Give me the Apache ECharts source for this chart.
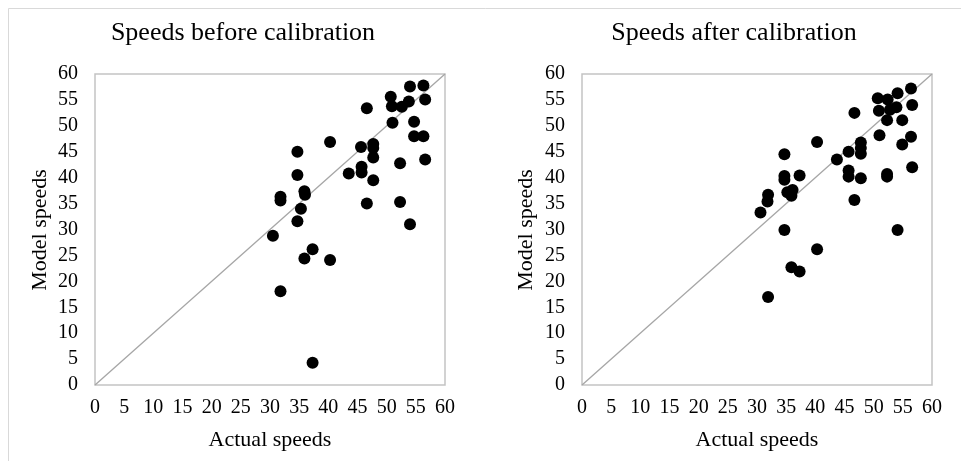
<!DOCTYPE html>
<html>
<head>
<meta charset="utf-8">
<script src="https://cdn.jsdelivr.net/npm/echarts@6/dist/echarts.min.js"></script>
<style>
  html, body { margin: 0; padding: 0; background: #fff; }
  #chart { width: 961px; height: 461px; }
</style>
</head>
<body>
<div id="chart"></div>
<script>
// Actual vs model speeds, before calibration
const beforeActual = [54.0, 56.3, 50.7, 56.6, 53.8, 50.9, 52.6, 46.6, 51.0, 54.7,
  54.7, 56.3, 40.3, 34.7, 45.6, 47.7, 47.7, 47.7, 56.6, 52.3,
  45.7, 45.7, 43.5, 34.7, 47.7, 35.9, 36.0, 31.8, 31.8, 46.6,
  52.3, 35.3, 34.7, 54.0, 30.5, 37.3, 35.9, 40.3, 31.8, 37.3];
const beforeModel = [57.6, 57.8, 55.6, 55.1, 54.7, 53.8, 53.7, 53.4, 50.6, 50.8,
  48.0, 48.0, 46.9, 45.0, 45.9, 46.5, 45.7, 43.9, 43.5, 42.8,
  42.1, 41.0, 40.8, 40.5, 39.5, 37.4, 36.7, 36.3, 35.6, 35.0,
  35.3, 34.0, 31.6, 31.0, 28.8, 26.2, 24.4, 24.1, 18.1, 4.3];

// Actual vs model speeds, after calibration
const afterActual = [56.4, 54.1, 50.7, 52.4, 56.6, 53.9, 50.9, 52.8, 46.7, 52.3,
  54.9, 51.0, 56.4, 40.3, 47.8, 54.9, 47.8, 45.7, 47.8, 34.7,
  43.7, 56.6, 45.7, 45.7, 52.3, 52.3, 34.7, 34.7, 37.3, 47.8,
  36.1, 35.2, 35.9, 31.9, 31.8, 46.7, 30.6, 34.7, 54.1, 40.3,
  35.9, 37.3, 31.9];
const afterModel = [57.2, 56.3, 55.3, 55.1, 54.0, 53.6, 52.9, 53.1, 52.5, 51.1,
  51.1, 48.2, 47.9, 46.9, 46.8, 46.4, 45.7, 45.0, 44.6, 44.5,
  43.5, 42.0, 41.4, 40.2, 40.7, 40.2, 40.3, 39.6, 40.4, 39.9,
  37.6, 37.2, 36.5, 36.7, 35.4, 35.7, 33.3, 29.9, 29.9, 26.2,
  22.7, 21.9, 17.0];

const titles = ['Speeds before calibration', 'Speeds after calibration'];
const xName = 'Actual speeds';
const yName = 'Model speeds';
const axisMin = 0, axisMax = 60, axisStep = 5;

const serif = '"Liberation Serif", "DejaVu Serif", serif';

function pairs(xs, ys) {
  return xs.map((x, i) => [x, ys[i]]);
}

// two side-by-side panels
const grids = [
  { left: 95, top: 74, width: 350, height: 311 },
  { left: 582, top: 74, width: 350, height: 311 }
];
const titleCenters = [238, 729];
const xNameCenters = [270, 757];
const yNameCenters = [40, 526];

function valueAxis(gridIndex, isX) {
  return {
    type: 'value',
    gridIndex: gridIndex,
    min: axisMin,
    max: axisMax,
    interval: axisStep,
    axisLine: { show: false },
    axisTick: { show: false },
    splitLine: { show: false },
    axisLabel: {
      color: '#000',
      fontFamily: serif,
      fontSize: 20,
      margin: isX ? 13 : 17
    }
  };
}

const chart = echarts.init(document.getElementById('chart'), null, { renderer: 'canvas' });

const dotStyle = { color: '#000', opacity: 1 };
const diagStyle = { color: '#a6a6a6', width: 1.3 };

const nameText = (x, y, rot) => ({
  type: 'text', x: x, y: y, rotation: rot,
  style: { text: rot ? yName : xName, fontFamily: serif, fontSize: 22, fill: '#000',
           align: 'center', verticalAlign: 'middle' }
});

chart.setOption({
  animation: false,
  backgroundColor: '#fff',
  grid: grids.map(g => Object.assign({
    show: true,
    borderColor: '#c3c3c3',
    borderWidth: 1.5,
    backgroundColor: 'transparent'
  }, g)),
  xAxis: [valueAxis(0, true), valueAxis(1, true)],
  yAxis: [valueAxis(0, false), valueAxis(1, false)],
  title: titles.map((t, i) => ({
    text: t, left: titleCenters[i], top: 15, textAlign: 'center',
    textStyle: { fontFamily: serif, fontSize: 26, fontWeight: 'normal', color: '#000' }
  })),
  graphic: [
    { type: 'rect', shape: { x: 8.5, y: 8.5, width: 1000, height: 500 },
      style: { fill: 'none', stroke: '#d9d9d9', lineWidth: 1 }, z: -1 },
    nameText(xNameCenters[0], 440, 0),
    nameText(xNameCenters[1], 440, 0),
    nameText(yNameCenters[0], 230, Math.PI / 2),
    nameText(yNameCenters[1], 230, Math.PI / 2)
  ],
  series: [
    { type: 'line', xAxisIndex: 0, yAxisIndex: 0, data: [[axisMin, axisMin], [axisMax, axisMax]],
      showSymbol: false, symbol: 'none', lineStyle: diagStyle, z: 1, silent: true },
    { type: 'line', xAxisIndex: 1, yAxisIndex: 1, data: [[axisMin, axisMin], [axisMax, axisMax]],
      showSymbol: false, symbol: 'none', lineStyle: diagStyle, z: 1, silent: true },
    { type: 'scatter', xAxisIndex: 0, yAxisIndex: 0, data: pairs(beforeActual, beforeModel),
      symbolSize: 12, itemStyle: dotStyle, z: 3 },
    { type: 'scatter', xAxisIndex: 1, yAxisIndex: 1, data: pairs(afterActual, afterModel),
      symbolSize: 12, itemStyle: dotStyle, z: 3 }
  ]
});
</script>
</body>
</html>
